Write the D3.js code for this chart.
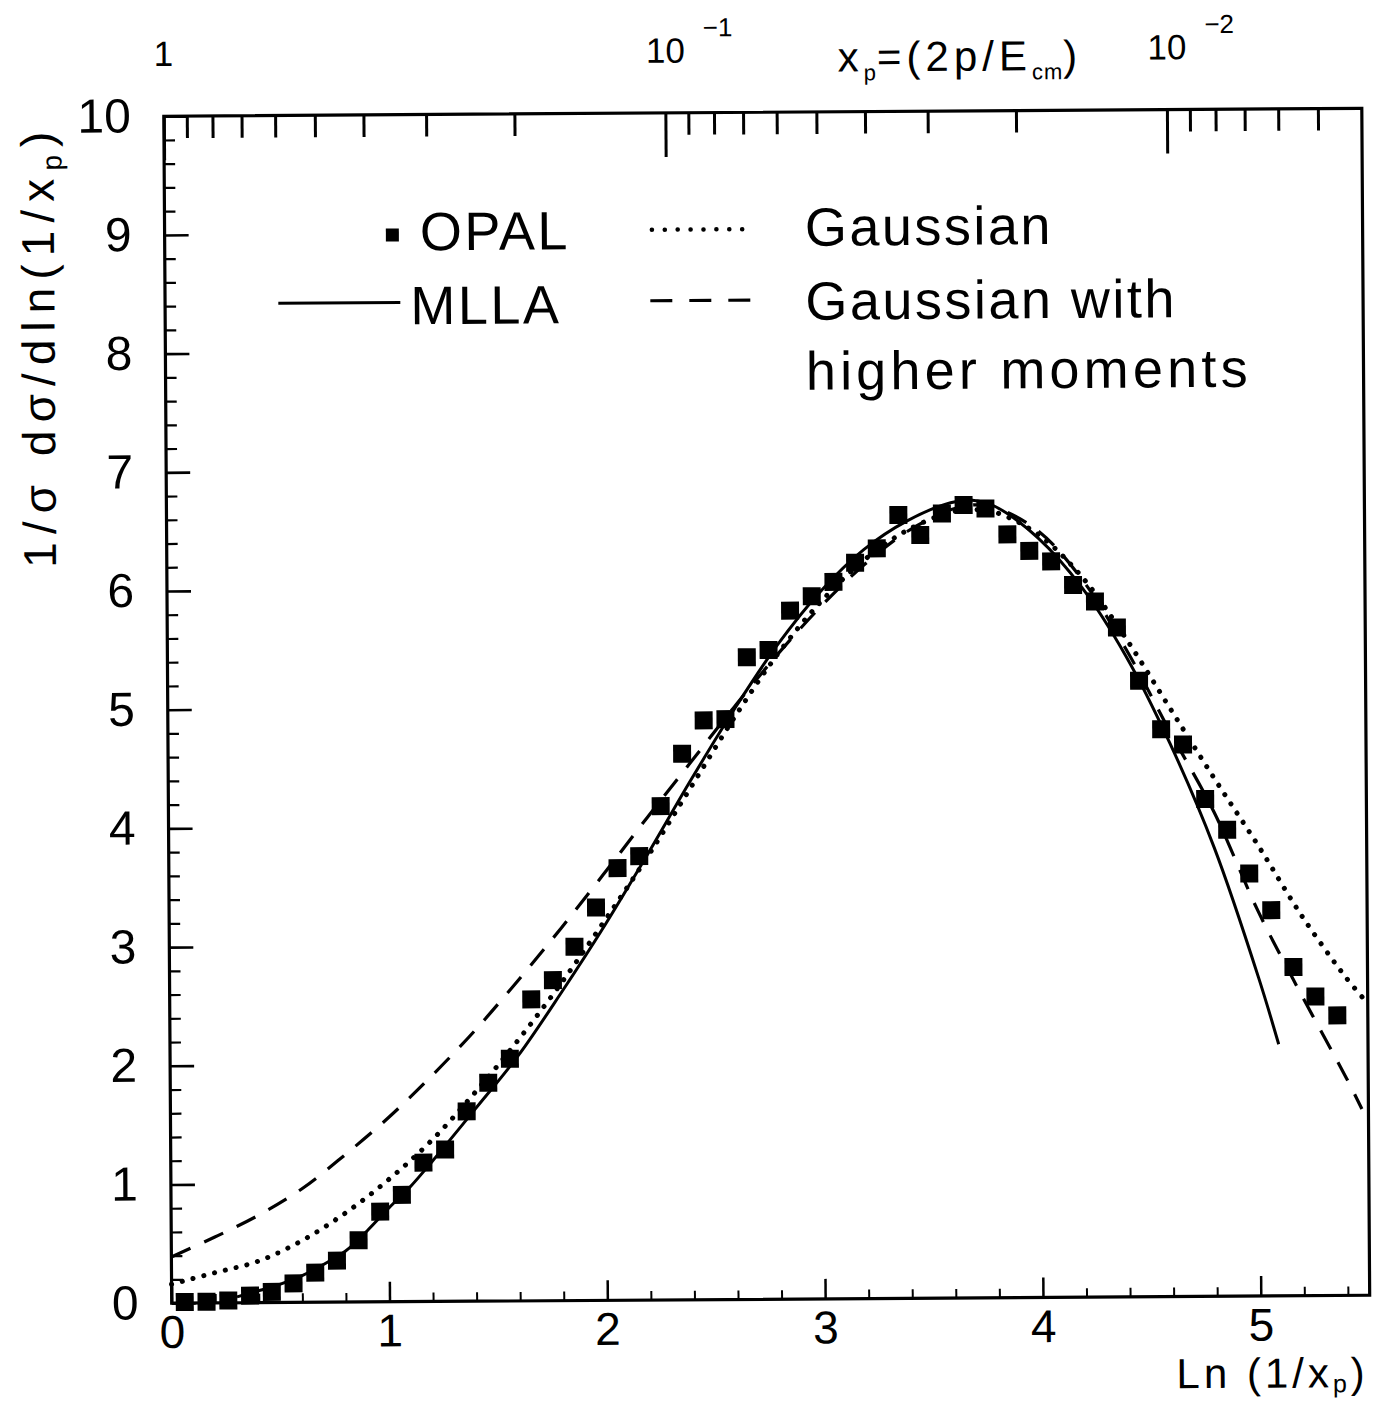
<!DOCTYPE html>
<html>
<head>
<meta charset="utf-8">
<script src="https://cdn.jsdelivr.net/npm/d3@7/dist/d3.min.js"></script>
<style>
  html, body { margin: 0; padding: 0; background: #fff; }
  svg { display: block; }
  text { font-family: "Liberation Sans", Arial, sans-serif; fill: #000; }
</style>
</head>
<body>
<svg id="chart"></svg>
<script>
// OPAL data, Ln(1/xp) bin centres and 1/sigma dsigma/dln(1/xp)
const opalX = [0.06, 0.16, 0.26, 0.36, 0.46, 0.56, 0.66, 0.76, 0.86, 0.96,
  1.06, 1.16, 1.26, 1.36, 1.46, 1.56, 1.66, 1.76, 1.86, 1.96,
  2.06, 2.16, 2.26, 2.36, 2.46, 2.56, 2.66, 2.76, 2.86, 2.96,
  3.06, 3.16, 3.26, 3.36, 3.46, 3.56, 3.66, 3.76, 3.86, 3.96,
  4.06, 4.16, 4.26, 4.36, 4.46, 4.56, 4.66, 4.76, 4.86, 4.96,
  5.06, 5.16, 5.26, 5.36]
const opalY = [0.01, 0.01, 0.02, 0.06, 0.09, 0.16, 0.25, 0.35, 0.52, 0.76,
  0.90, 1.17, 1.28, 1.60, 1.84, 2.04, 2.54, 2.70, 2.98, 3.31,
  3.64, 3.74, 4.16, 4.60, 4.88, 4.89, 5.41, 5.47, 5.80, 5.92,
  6.04, 6.20, 6.32, 6.60, 6.43, 6.61, 6.68, 6.65, 6.43, 6.29,
  6.20, 6.00, 5.86, 5.64, 5.19, 4.78, 4.65, 4.19, 3.93, 3.56,
  3.25, 2.77, 2.52, 2.36]

// MLLA (solid)
const mllaX = [0.30, 0.40, 0.50, 0.60, 0.70, 0.80, 0.90, 1.00, 1.10, 1.20, 1.40, 1.60, 1.80, 2.00, 2.20, 2.40,
  2.60, 2.80, 3.00, 3.20, 3.40, 3.60, 3.70, 3.80, 4.00, 4.20, 4.40, 4.60, 4.80, 5.00, 5.09]
const mllaY = [0.05, 0.10, 0.155, 0.225, 0.32, 0.43, 0.60, 0.79, 0.97, 1.18, 1.62, 2.07, 2.60, 3.16, 3.76, 4.38,
  4.97, 5.51, 5.96, 6.31, 6.55, 6.70, 6.72, 6.67, 6.40, 5.98, 5.40, 4.66, 3.78, 2.68, 2.12]

// Gaussian (dotted)
const gausX = [0.00, 0.20, 0.40, 0.60, 0.80, 1.00, 1.20, 1.40, 1.60, 1.80, 2.00, 2.20, 2.40, 2.60, 2.80,
  3.00, 3.20, 3.40, 3.60, 3.70, 3.80, 4.00, 4.20, 4.40, 4.60, 4.80, 5.00, 5.20, 5.40, 5.49]
const gausY = [0.16, 0.255, 0.35, 0.52, 0.75, 1.03, 1.36, 1.76, 2.20, 2.68, 3.20, 3.74, 4.32, 4.90, 5.43,
  5.87, 6.22, 6.47, 6.62, 6.64, 6.62, 6.43, 6.07, 5.55, 4.96, 4.37, 3.80, 3.20, 2.68, 2.48]

// Gaussian with higher moments (dashed)
const hmX = [0.00, 0.20, 0.40, 0.60, 0.80, 1.00, 1.20, 1.40, 1.60, 1.80, 2.00, 2.20, 2.40, 2.60, 2.80,
  3.00, 3.20, 3.40, 3.60, 3.70, 3.80, 4.00, 4.20, 4.40, 4.60, 4.80, 5.00, 5.20, 5.40, 5.47]
const hmY = [0.39, 0.555, 0.735, 0.955, 1.24, 1.55, 1.90, 2.28, 2.70, 3.14, 3.60, 4.07, 4.53, 4.99, 5.43,
  5.83, 6.18, 6.46, 6.64, 6.68, 6.66, 6.46, 6.05, 5.46, 4.76, 4.08, 3.24, 2.52, 1.83, 1.57]

// axis ticks
const xMajor = [0, 1, 2, 3, 4, 5]
const xMinor = [0.2, 0.4, 0.6, 0.8, 1.2, 1.4, 1.6, 1.8, 2.2, 2.4, 2.6, 2.8, 3.2, 3.4, 3.6, 3.8,
  4.2, 4.4, 4.6, 4.8, 5.2, 5.4]
const yMajor = [0, 1, 2, 3, 4, 5, 6, 7, 8, 9, 10]
const yMinor = d3.range(0.2, 10, 0.2).filter(v => Math.abs(v - Math.round(v)) > 0.01)
const topMajor = [1, 0.1, 0.01]
const topMinor = [0.9, 0.8, 0.7, 0.6, 0.5, 0.4, 0.3, 0.2,
  0.09, 0.08, 0.07, 0.06, 0.05, 0.04, 0.03, 0.02,
  0.009, 0.008, 0.007, 0.006, 0.005]
const topLabels = [{v: 1, base: '1', exp: ''}, {v: 0.1, base: '10', exp: '-1'}, {v: 0.01, base: '10', exp: '-2'}]

const width = 1384
const height = 1403
const fLeft = 167.75, fRight = 1365.75, fTop = 112.25, fBottom = 1299.25

const svg = d3.select('#chart')
  .attr('width', width)
  .attr('height', height)

// the scanned figure is tilted slightly
const g = svg.append('g')
  .attr('transform', `rotate(-0.38, ${(fLeft + fRight) / 2}, ${(fTop + fBottom) / 2})`)

const x = d3.scaleLinear().domain([0, 5.5]).range([fLeft, fRight])
const y = d3.scaleLinear().domain([0, 10]).range([fBottom, fTop])
const xTop = d3.scaleLog().domain([1, Math.exp(-5.5)]).range([fLeft, fRight])

// frame
g.append('rect')
  .attr('x', fLeft).attr('y', fTop)
  .attr('width', fRight - fLeft).attr('height', fBottom - fTop)
  .attr('fill', 'none').attr('stroke', '#000').attr('stroke-width', 3.2)

function styleAxis(sel, w) {
  sel.select('.domain').remove()
  sel.selectAll('.tick line').attr('stroke', '#000').attr('stroke-width', w)
}

// bottom axis
g.append('g')
  .attr('transform', `translate(0,${fBottom})`)
  .call(d3.axisBottom(x).tickValues(xMinor).tickSize(-9).tickFormat(''))
  .call(s => styleAxis(s, 2))
g.append('g')
  .attr('transform', `translate(0,${fBottom})`)
  .call(d3.axisBottom(x).tickValues(xMajor).tickSize(-20).tickPadding(12).tickFormat(d3.format('d')))
  .call(s => styleAxis(s, 2.5))
  .call(s => s.selectAll('text').attr('font-size', 46).attr('fill', '#000')
    .attr('font-family', '"Liberation Sans", Arial, sans-serif'))

// left axis
g.append('g')
  .attr('transform', `translate(${fLeft},0)`)
  .call(d3.axisLeft(y).tickValues(yMinor).tickSize(-11).tickFormat(''))
  .call(s => styleAxis(s, 2.2))
g.append('g')
  .attr('transform', `translate(${fLeft},0)`)
  .call(d3.axisLeft(y).tickValues(yMajor).tickSize(-24).tickPadding(33).tickFormat(d3.format('d')))
  .call(s => styleAxis(s, 2.6))
  .call(s => s.selectAll('text').attr('font-size', 48).attr('fill', '#000')
    .attr('font-family', '"Liberation Sans", Arial, sans-serif'))

// top axis in x_p
g.append('g')
  .attr('transform', `translate(0,${fTop})`)
  .call(d3.axisTop(xTop).tickValues(topMinor).tickSize(-22).tickFormat(''))
  .call(s => styleAxis(s, 3))
g.append('g')
  .attr('transform', `translate(0,${fTop})`)
  .call(d3.axisTop(xTop).tickValues(topMajor).tickSize(-44).tickFormat(''))
  .call(s => styleAxis(s, 3))

const tl = g.selectAll('.toplab')
  .data(topLabels)
  .enter()
  .append('text')
  .attr('class', 'toplab')
  .attr('font-size', 35)
tl.append('tspan')
  .attr('x', d => d.exp ? xTop(d.v) - 19 : xTop(d.v))
  .attr('y', 62)
  .attr('text-anchor', d => d.exp ? 'start' : 'middle')
  .text(d => d.base)
tl.filter(d => d.exp)
  .append('tspan')
  .attr('x', d => xTop(d.v) + 38)
  .attr('y', 36)
  .attr('font-size', 26)
  .text(d => d.exp.replace('-', '\u2212'))

// x_p label on top
const xpLab = g.append('text')
  .attr('x', 842).attr('y', 72)
  .attr('font-size', 42)
  .attr('letter-spacing', 5)
xpLab.append('tspan').text('x')
xpLab.append('tspan').attr('font-size', 22).attr('letter-spacing', 1).attr('dy', 9).text('p')
xpLab.append('tspan').attr('dy', -9).text('=(2p/E')
xpLab.append('tspan').attr('font-size', 22).attr('letter-spacing', 1).attr('dy', 9).text('cm')
xpLab.append('tspan').attr('dy', -9).text(')')

// y axis title
const yLab = g.append('text')
  .attr('transform', 'translate(57,563) rotate(-90)')
  .attr('font-size', 46)
  .attr('textLength', 436)
  .attr('lengthAdjust', 'spacing')
yLab.append('tspan').text('1/σ  dσ/dln(1/x')
yLab.append('tspan').attr('font-size', 28).attr('dy', 8).text('p')
yLab.append('tspan').attr('dy', -8).text(')')

// x axis title
const xLab = g.append('text')
  .attr('x', 1172).attr('y', 1391)
  .attr('font-size', 42)
  .attr('letter-spacing', 4)
xLab.append('tspan').text('Ln (1/x')
xLab.append('tspan').attr('font-size', 25).attr('dy', 5).text('p')
xLab.append('tspan').attr('dy', -5).text(')')

// curves
const line = d3.line()
  .x(d => x(d[0]))
  .y(d => y(d[1]))
  .curve(d3.curveCatmullRom.alpha(0.5))

const curves = [
  {xs: mllaX, ys: mllaY, dash: null, w: 3, cap: 'butt'},
  {xs: gausX, ys: gausY, dash: '0.1 11', w: 5, cap: 'round'},
  {xs: hmX, ys: hmY, dash: '21 15', w: 3.2, cap: 'butt'}
]
g.selectAll('.curve')
  .data(curves)
  .enter()
  .append('path')
  .attr('class', 'curve')
  .attr('d', d => line(d.xs.map((v, i) => [v, d.ys[i]])))
  .attr('fill', 'none')
  .attr('stroke', '#000')
  .attr('stroke-width', d => d.w)
  .attr('stroke-linecap', d => d.cap)
  .attr('stroke-dasharray', d => d.dash)

// OPAL points
const ms = 18
g.selectAll('.pt')
  .data(opalX.map((v, i) => [v, opalY[i]]))
  .enter()
  .append('rect')
  .attr('class', 'pt')
  .attr('x', d => x(d[0]) - ms / 2)
  .attr('y', d => y(d[1]) - ms / 2)
  .attr('width', ms)
  .attr('height', ms)
  .attr('fill', '#000')

// legend
const leg = g.append('g').attr('class', 'legend')
leg.append('rect')
  .attr('x', 389).attr('y', 226).attr('width', 13).attr('height', 13).attr('fill', '#000')
leg.append('line')
  .attr('x1', 281).attr('x2', 403).attr('y1', 300).attr('y2', 300)
  .attr('stroke', '#000').attr('stroke-width', 3)
leg.append('line')
  .attr('x1', 655).attr('x2', 758).attr('y1', 229).attr('y2', 229)
  .attr('stroke', '#000').attr('stroke-width', 4.5)
  .attr('stroke-linecap', 'round').attr('stroke-dasharray', '0.1 12.8')
leg.append('line')
  .attr('x1', 653).attr('x2', 753).attr('y1', 300).attr('y2', 300)
  .attr('stroke', '#000').attr('stroke-width', 3.2)
  .attr('stroke-dasharray', '22 17')

const legText = [
  {t: 'OPAL', x: 423, y: 248, ls: 2.5},
  {t: 'MLLA', x: 413, y: 322, ls: 2.5},
  {t: 'Gaussian', x: 808, y: 246, ls: 2.5},
  {t: 'Gaussian with', x: 808, y: 320, ls: 2.5},
  {t: 'higher moments', x: 808, y: 390, ls: 4.2}
]
leg.selectAll('text')
  .data(legText)
  .enter()
  .append('text')
  .attr('x', d => d.x)
  .attr('y', d => d.y)
  .attr('font-size', 54)
  .attr('letter-spacing', d => d.ls)
  .text(d => d.t)
</script>
</body>
</html>
